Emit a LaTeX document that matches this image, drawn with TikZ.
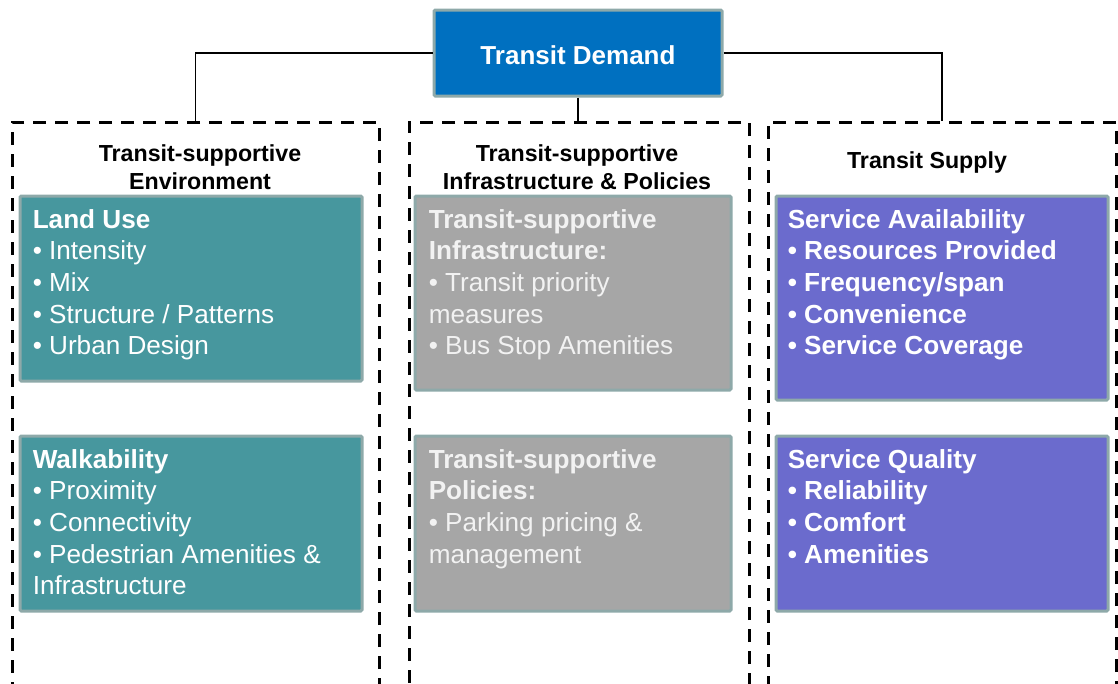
\documentclass[tikz,border=0pt]{standalone}
\usepackage{fontspec}
\setmainfont{Liberation Sans}
\usetikzlibrary{positioning, fit}

\definecolor{demandblue}{HTML}{0070C0}
\definecolor{envteal}{HTML}{47979E}
\definecolor{infragray}{HTML}{A6A6A6}
\definecolor{supplyviolet}{HTML}{6B6BCD}
\definecolor{cellrim}{HTML}{8EA9A9}

\tikzset{
  grp/.style={draw=black, line width=2.25pt, dash pattern=on 9.75pt off 6.75pt, inner sep=0pt},
  cell/.style={draw=cellrim, line width=2.25pt, rounded corners=1pt, inner sep=0pt},
  celltext/.style={anchor=north west, inner sep=0pt, align=left, text=white,
    font=\fontsize{19.6}{23.7}\selectfont},
  grphead/.style={align=center, inner sep=0pt, font=\fontsize{17.4}{21}\selectfont\bfseries},
  link/.style={draw=black, line width=0.8pt},
}

\begin{document}
\begin{tikzpicture}[x=0.75pt, y=-0.75pt]
  \useasboundingbox (0,0) rectangle (1118,683);
  \clip (0,0) rectangle (1118,683);

  % top box
  \node[cell, fill=demandblue, fit={(434,10) (722,96)}] (demand) {};
  \node[text=white, inner sep=0pt, font=\fontsize{19.5}{23}\selectfont\bfseries]
    (demandtext) at (578,55) {Transit Demand};

  % three dashed groups, open below the page edge
  \node[grp, fit={(12,122) (379,720)}] (env) {};
  \node[grp, fit={(409,122) (749,720)}] (infra) {};
  \node[grp, fit={(768,122) (1116,720)}] (supply) {};

  \draw[link] (demand.west) -| (env.north);
  \draw[link] (demand.east) -| (supply.north);
  \draw[link] (demand.south) -- (demand.south |- infra.north);

  \node[grphead] (envhead) at (200,167) {Transit-supportive\\Environment};
  \node[grphead] (infrahead) at (577,167) {Transit-supportive\\Infrastructure \& Policies};
  \node[grphead] (supplyhead) at (927,162) {Transit Supply};

  % environment
  \node[cell, fill=envteal, fit={(20,196) (362,381)}] (landuse) {};
  \node[cell, fill=envteal, fit={(20,436) (362,611)}] (walk) {};
  \node[celltext] (landusetext) at ([shift={(14,14.5)}]landuse.north west)
    {\textbf{Land Use}\\• Intensity\\• Mix\\• Structure / Patterns\\• Urban Design};
  \node[celltext] (walktext) at ([shift={(14,14.5)}]walk.north west)
    {\textbf{Walkability}\\• Proximity\\• Connectivity\\• Pedestrian Amenities \&\\Infrastructure};

  % infrastructure & policies
  \node[cell, fill=infragray, fit={(415,196) (731,390)}] (infracell) {};
  \node[cell, fill=infragray, fit={(415,436) (731,611)}] (policy) {};
  \node[celltext, text=white!95!black] (infratext) at ([shift={(15,14.5)}]infracell.north west)
    {\textbf{Transit-supportive}\\\textbf{Infrastructure:}\\• Transit priority\\measures\\• Bus Stop Amenities};
  \node[celltext, text=white!95!black] (policytext) at ([shift={(15,14.5)}]policy.north west)
    {\textbf{Transit-supportive}\\\textbf{Policies:}\\• Parking pricing \&\\management};

  % supply
  \node[cell, fill=supplyviolet, fit={(776,196) (1108,400)}] (avail) {};
  \node[cell, fill=supplyviolet, fit={(776,436) (1108,611)}] (quality) {};
  \node[celltext, font=\fontsize{19.6}{23.7}\selectfont\bfseries] (availtext) at ([shift={(13,14.5)}]avail.north west)
    {Service Availability\\• Resources Provided\\• Frequency/span\\• Convenience\\• Service Coverage};
  \node[celltext, font=\fontsize{19.6}{23.7}\selectfont\bfseries] (qualitytext) at ([shift={(13,14.5)}]quality.north west)
    {Service Quality\\• Reliability\\• Comfort\\• Amenities};
\end{tikzpicture}
\end{document}
